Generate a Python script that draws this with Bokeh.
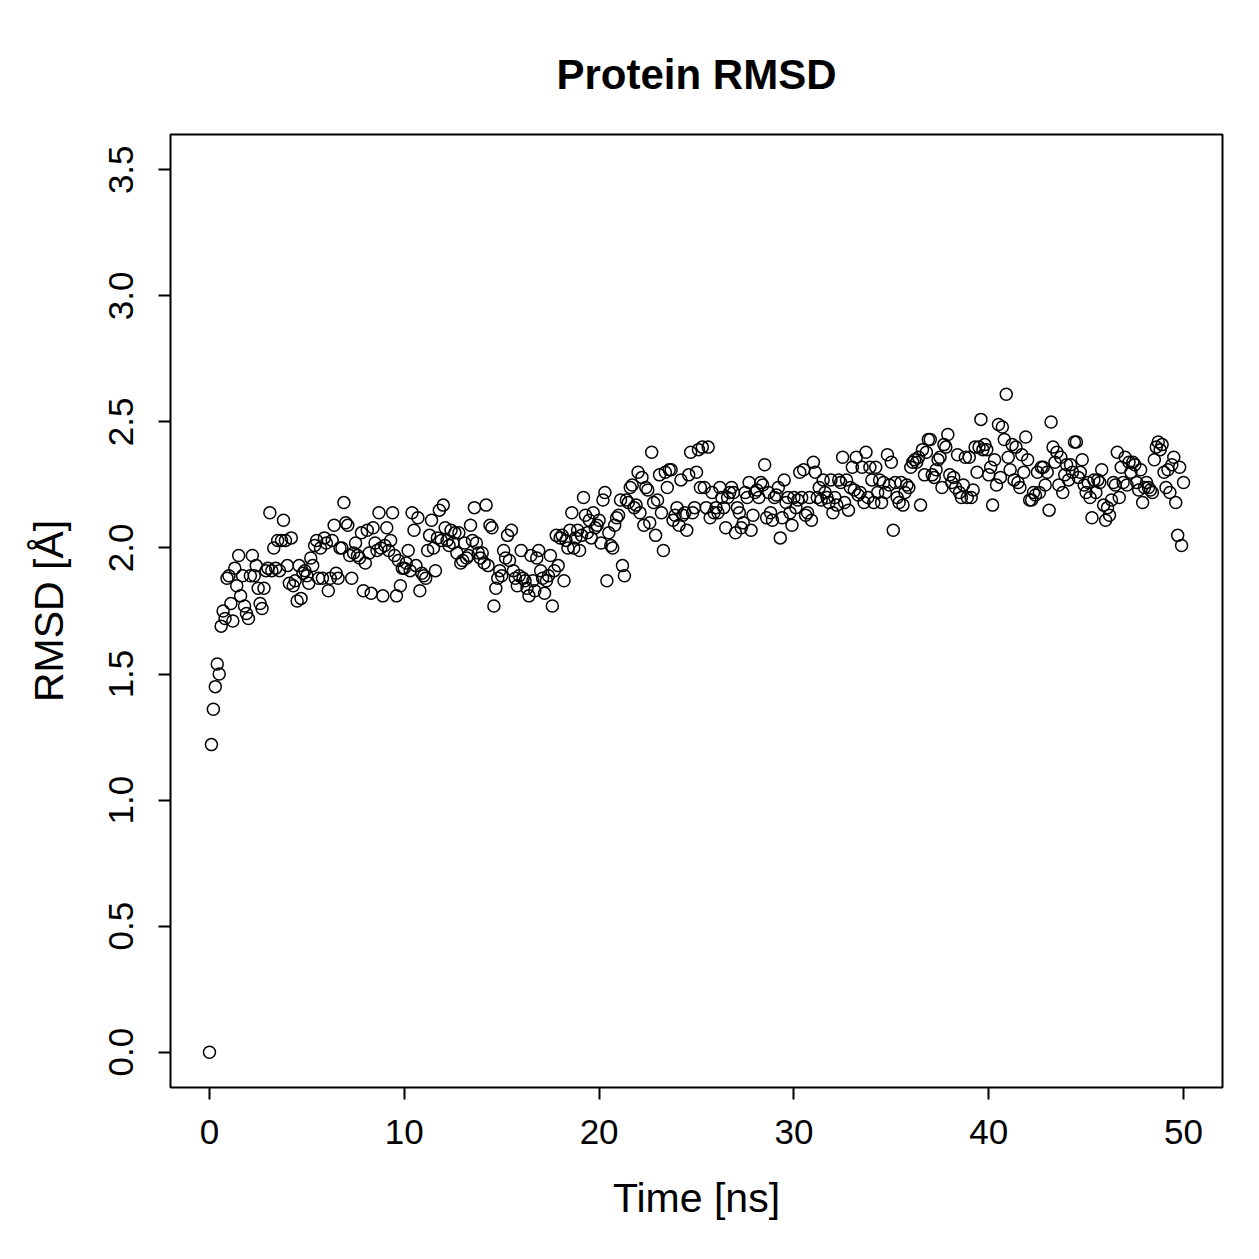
import numpy as np
from bokeh.plotting import figure
from bokeh.models import Range1d, FixedTicker, NumeralTickFormatter, ColumnDataSource
from bokeh.embed import file_html
from bokeh.resources import INLINE

# RMSD values, one row per nanosecond (0.1 ns steps)
rmsd_rows = [
    [0.00, 1.22, 1.36, 1.45, 1.54, 1.50, 1.69, 1.75, 1.72, 1.88],
    [1.89, 1.78, 1.71, 1.92, 1.85, 1.97, 1.81, 1.89, 1.77, 1.74],
    [1.72, 1.89, 1.97, 1.89, 1.93, 1.84, 1.78, 1.76, 1.84, 1.91],
    [1.92, 2.14, 1.91, 2.00, 1.92, 2.03, 1.91, 2.03, 2.11, 2.03],
    [1.93, 1.86, 2.04, 1.85, 1.87, 1.79, 1.93, 1.80, 1.90, 1.91],
    [1.89, 1.86, 1.96, 1.93, 2.01, 2.03, 1.88, 2.00, 1.88, 2.04],
    [2.02, 1.83, 1.88, 2.03, 2.09, 1.90, 1.88, 2.00, 2.00, 2.18],
    [2.10, 2.09, 1.97, 1.88, 1.98, 2.02, 1.97, 1.96, 2.06, 1.83],
    [1.94, 2.07, 1.98, 1.82, 2.08, 2.02, 1.99, 2.14, 2.00, 1.81],
    [2.01, 2.08, 1.99, 2.03, 2.14, 1.97, 1.81, 1.95, 1.85, 1.92],
    [1.92, 1.94, 1.99, 1.91, 2.14, 2.07, 1.93, 2.12, 1.83, 1.90],
    [1.89, 1.88, 1.99, 2.05, 2.11, 2.00, 1.91, 2.04, 2.15, 2.03],
    [2.17, 2.08, 2.03, 2.01, 2.07, 2.02, 2.06, 1.98, 2.06, 1.94],
    [1.95, 2.02, 1.96, 1.97, 2.09, 2.03, 2.16, 2.02, 1.98, 1.96],
    [1.98, 1.94, 2.17, 1.93, 2.09, 2.08, 1.77, 1.84, 1.88, 1.91],
    [1.89, 1.99, 1.96, 2.05, 1.95, 2.07, 1.91, 1.88, 1.85, 1.89],
    [1.99, 1.88, 1.87, 1.84, 1.81, 1.97, 1.87, 1.83, 1.96, 1.99],
    [1.91, 1.88, 1.82, 1.87, 1.89, 1.97, 1.77, 1.91, 2.05, 1.93],
    [2.04, 2.05, 1.87, 2.03, 2.00, 2.07, 2.14, 2.00, 2.04, 2.07],
    [1.99, 2.05, 2.20, 2.13, 2.06, 2.11, 2.04, 2.14, 2.08, 2.09],
    [2.11, 2.02, 2.19, 2.22, 1.87, 2.06, 2.01, 2.00, 2.09, 2.12],
    [2.13, 2.19, 1.93, 1.89, 2.19, 2.18, 2.24, 2.25, 2.16, 2.17],
    [2.30, 2.14, 2.28, 2.09, 2.24, 2.23, 2.10, 2.38, 2.18, 2.05],
    [2.19, 2.29, 2.14, 1.99, 2.30, 2.24, 2.31, 2.31, 2.11, 2.13],
    [2.16, 2.09, 2.27, 2.13, 2.14, 2.07, 2.29, 2.38, 2.14, 2.16],
    [2.30, 2.39, 2.24, 2.40, 2.24, 2.16, 2.40, 2.12, 2.22, 2.14],
    [2.16, 2.14, 2.24, 2.20, 2.16, 2.08, 2.20, 2.22, 2.24, 2.22],
    [2.06, 2.16, 2.14, 2.08, 2.10, 2.22, 2.20, 2.26, 2.07, 2.13],
    [2.22, 2.23, 2.20, 2.26, 2.25, 2.33, 2.12, 2.22, 2.14, 2.11],
    [2.20, 2.21, 2.24, 2.04, 2.12, 2.27, 2.18, 2.20, 2.14, 2.09],
    [2.20, 2.16, 2.19, 2.30, 2.20, 2.31, 2.13, 2.14, 2.20, 2.11],
    [2.34, 2.30, 2.20, 2.24, 2.19, 2.27, 2.22, 2.20, 2.18, 2.27],
    [2.14, 2.20, 2.17, 2.27, 2.26, 2.36, 2.18, 2.27, 2.15, 2.24],
    [2.32, 2.23, 2.36, 2.21, 2.22, 2.32, 2.18, 2.38, 2.20, 2.32],
    [2.27, 2.18, 2.32, 2.22, 2.27, 2.18, 2.26, 2.22, 2.37, 2.25],
    [2.34, 2.07, 2.26, 2.20, 2.18, 2.26, 2.17, 2.22, 2.25, 2.24],
    [2.32, 2.34, 2.35, 2.34, 2.36, 2.17, 2.39, 2.29, 2.38, 2.43],
    [2.43, 2.29, 2.28, 2.31, 2.35, 2.36, 2.24, 2.41, 2.40, 2.45],
    [2.29, 2.26, 2.28, 2.24, 2.37, 2.22, 2.20, 2.25, 2.36, 2.20],
    [2.36, 2.20, 2.23, 2.40, 2.30, 2.40, 2.51, 2.39, 2.41, 2.39],
    [2.29, 2.32, 2.17, 2.35, 2.25, 2.49, 2.28, 2.48, 2.43, 2.61],
    [2.36, 2.31, 2.41, 2.27, 2.40, 2.26, 2.24, 2.37, 2.30, 2.44],
    [2.35, 2.19, 2.19, 2.22, 2.21, 2.30, 2.22, 2.32, 2.32, 2.25],
    [2.30, 2.15, 2.50, 2.40, 2.34, 2.38, 2.25, 2.36, 2.22, 2.29],
    [2.33, 2.27, 2.33, 2.30, 2.42, 2.42, 2.28, 2.30, 2.35, 2.25],
    [2.22, 2.26, 2.20, 2.12, 2.27, 2.22, 2.27, 2.26, 2.31, 2.17],
    [2.11, 2.16, 2.13, 2.19, 2.26, 2.25, 2.38, 2.20, 2.32, 2.26],
    [2.36, 2.25, 2.34, 2.30, 2.34, 2.33, 2.26, 2.23, 2.31, 2.18],
    [2.24, 2.26, 2.24, 2.23, 2.22, 2.35, 2.40, 2.42, 2.39, 2.41],
    [2.30, 2.24, 2.31, 2.22, 2.33, 2.36, 2.18, 2.05, 2.32, 2.01],
    [2.26],
]
rmsd = [v for row in rmsd_rows for v in row]
time_ns = [round(i * 0.1, 1) for i in range(len(rmsd))]

x_ticks = [0, 10, 20, 30, 40, 50]
y_ticks = [0.0, 0.5, 1.0, 1.5, 2.0, 2.5, 3.0, 3.5]

FONT = "Liberation Sans"

p = figure(width=1259, height=1259, output_backend="svg", toolbar_location=None,
           x_range=Range1d(-2, 52), y_range=Range1d(-0.14, 3.64),
           min_border_left=170, min_border_right=37, min_border_top=134,
           min_border_bottom=172, title="Protein RMSD")

src = ColumnDataSource(dict(t=time_ns, r=rmsd))
p.scatter("t", "r", source=src, marker="circle", size=12, fill_color=None,
          line_color="black", line_width=1.5)

p.title.align = "center"
p.title.text_font = FONT
p.title.text_font_size = "42px"
p.title.text_font_style = "bold"
p.title.text_color = "black"
p.title.standoff = 74

p.xgrid.visible = False
p.ygrid.visible = False
p.outline_line_color = "black"
p.outline_line_width = 2
p.background_fill_color = "white"
p.border_fill_color = "white"

for ax in (p.xaxis[0], p.yaxis[0]):
    ax.axis_line_color = None
    ax.major_tick_line_color = "black"
    ax.major_tick_line_width = 2
    ax.major_tick_out = 12
    ax.major_tick_in = 0
    ax.minor_tick_line_color = None
    ax.major_label_text_font = FONT
    ax.major_label_text_font_size = "35px"
    ax.major_label_text_color = "black"
    ax.axis_label_text_font = FONT
    ax.axis_label_text_font_size = "41px"
    ax.axis_label_text_font_style = "normal"
    ax.axis_label_text_color = "black"

p.xaxis[0].ticker = FixedTicker(ticks=x_ticks)
p.yaxis[0].ticker = FixedTicker(ticks=y_ticks)
p.yaxis[0].formatter = NumeralTickFormatter(format="0.0")
p.yaxis[0].major_label_orientation = "vertical"
p.xaxis[0].axis_label = "Time [ns]"
p.yaxis[0].axis_label = "RMSD [Å]"
p.xaxis[0].major_label_standoff = 20
p.yaxis[0].major_label_standoff = 25
p.xaxis[0].axis_label_standoff = 28
p.yaxis[0].axis_label_standoff = 35

open("out.html", "w").write(file_html(p, INLINE))
